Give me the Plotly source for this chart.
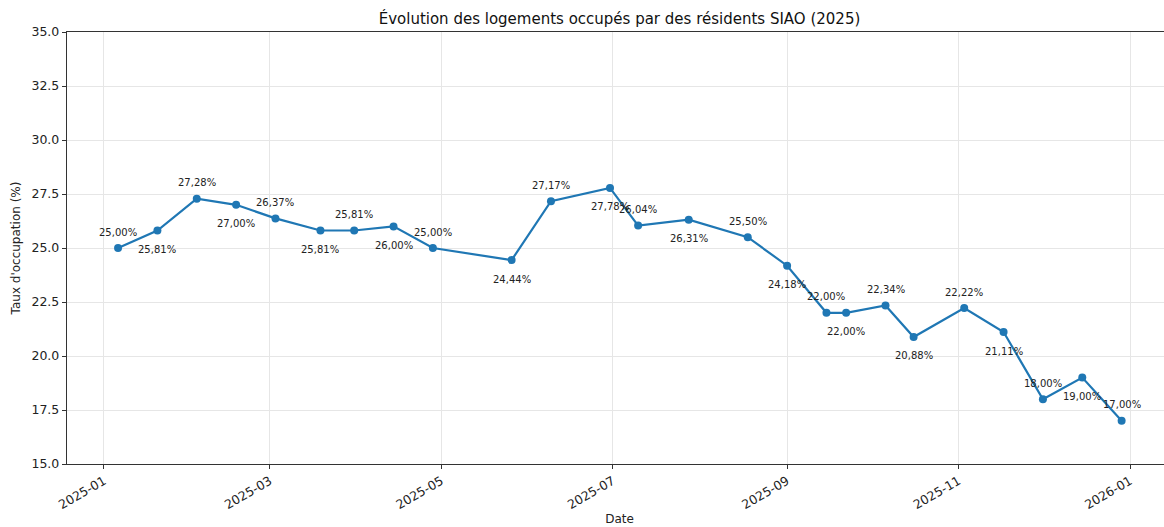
import plotly.graph_objects as go

dates = ["2025-01-06", "2025-01-20", "2025-02-03", "2025-02-17", "2025-03-03",
         "2025-03-19", "2025-03-31", "2025-04-14", "2025-04-28", "2025-05-26",
         "2025-06-09", "2025-06-30", "2025-07-10", "2025-07-28", "2025-08-18",
         "2025-09-01", "2025-09-15", "2025-09-22", "2025-10-06", "2025-10-16",
         "2025-11-03", "2025-11-17", "2025-12-01", "2025-12-15", "2025-12-29"]
rates = [25.00, 25.81, 27.28, 27.00, 26.37, 25.81, 25.81, 26.00, 25.00, 24.44,
         27.17, 27.78, 26.04, 26.31, 25.50, 24.18, 22.00, 22.00, 22.34, 20.88,
         22.22, 21.11, 18.00, 19.00, 17.00]
labels = [f"{v:.2f}%".replace(".", ",") for v in rates]
y_ticks = [15.0, 17.5, 20.0, 22.5, 25.0, 27.5, 30.0, 32.5, 35.0]

FONT = "DejaVu Sans"
fig = go.Figure()
fig.add_trace(go.Scatter(
    x=dates, y=rates, mode="lines+markers",
    line=dict(color="#1f77b4", width=2.2),
    marker=dict(color="#1f77b4", size=8),
    showlegend=False, hoverinfo="skip"))

for i, (d, v, t) in enumerate(zip(dates, rates, labels)):
    fig.add_annotation(x=d, y=v, text=t, showarrow=False,
                       yshift=16 if i % 2 == 0 else -19,
                       font=dict(family=FONT, size=10, color="#222222"))

fig.update_layout(
    width=1172, height=527,
    margin=dict(l=67, r=0, t=32, b=63),
    paper_bgcolor="white", plot_bgcolor="white",
    font=dict(family=FONT, size=12, color="#222222"),
    hovermode=False,
    title=dict(text="Évolution des logements occupés par des résidents SIAO (2025)",
               xref="paper", x=0.5, xanchor="center", y=0.965, yanchor="middle",
               font=dict(family=FONT, size=15, color="#111111")),
)
fig.update_xaxes(
    range=["2024-12-18T20:10:00", "2026-01-15T22:00:00"],
    tick0="2025-01-01", dtick="M2", tickformat="%Y-%m",
    tickangle=-30, ticks="outside", ticklen=4, tickcolor="#333333",
    showgrid=True, gridcolor="#e6e6e6", gridwidth=1,
    showline=True, linecolor="#333333", linewidth=1.2, mirror=True,
    zeroline=False, automargin=False,
    title=dict(text="Date", standoff=2, font=dict(family=FONT, size=12)),
    tickfont=dict(family=FONT, size=12.5, color="#222222"),
)
fig.update_yaxes(
    range=[15, 35], tickvals=y_ticks, tickformat=".1f",
    ticks="outside", ticklen=4, tickcolor="#333333",
    showgrid=True, gridcolor="#e6e6e6", gridwidth=1,
    showline=True, linecolor="#333333", linewidth=1.2, mirror=False,
    zeroline=False, automargin=False,
    title=dict(text="Taux d'occupation (%)", standoff=8, font=dict(family=FONT, size=12)),
    tickfont=dict(family=FONT, size=12.5, color="#222222"),
)
fig.write_html("out.html",
               config={"displayModeBar": False, "staticPlot": True},
               post_script="document.body.style.margin='0';document.body.style.overflow='hidden';")
